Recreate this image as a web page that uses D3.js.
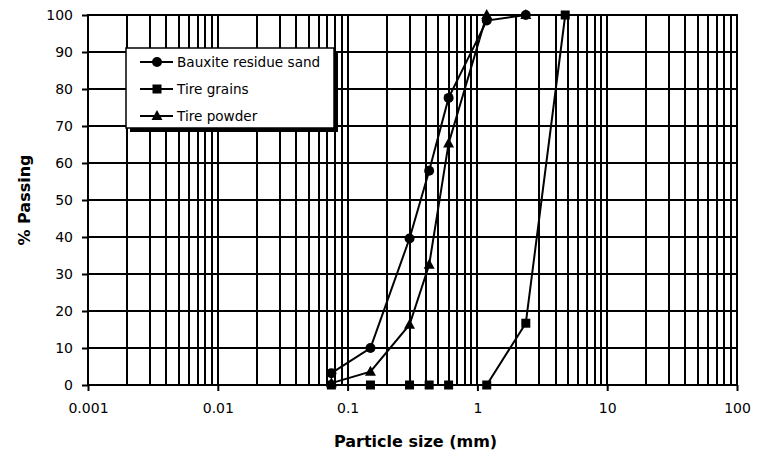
<!DOCTYPE html>
<html>
<head>
<meta charset="utf-8">
<script src="https://cdn.jsdelivr.net/npm/d3@7"></script>
<style>
  body { margin: 0; background: #fff; }
  svg { display: block; font-family: "DejaVu Sans", sans-serif; }
</style>
</head>
<body>
<svg width="763" height="456"></svg>
<script>
// DATA
const sieveSizes = [0.075, 0.15, 0.3, 0.425, 0.6, 1.18, 2.36, 4.75];
const bauxiteSand = [3.2, 10, 39.6, 57.9, 77.6, 98.5, 100, null];
const tireGrains = [0, 0, 0, 0, 0, 0, 16.7, 100];
const tirePowder = [0.5, 3.6, 16.3, 32.5, 65.3, 100, 100, null];
const seriesNames = ["Bauxite residue sand", "Tire grains", "Tire powder"];
const seriesShapes = ["circle", "square", "triangle"];
const xTickLabels = [0.001, 0.01, 0.1, 1, 10, 100];
const yTicks = [0, 10, 20, 30, 40, 50, 60, 70, 80, 90, 100];

const svg = d3.select("svg");
const FONT = "'DejaVu Sans', sans-serif";

// CONSTANTS
const margin = { top: 15, left: 88, right: 26, bottom: 71 };
const width = +svg.attr("width");
const height = +svg.attr("height");

// SCALES
const x = d3.scaleLog().domain([0.001, 100]).range([margin.left, width - margin.right]);
const y = d3.scaleLinear().domain([0, 100]).range([height - margin.bottom, margin.top]);

// gridlines
const grid = svg.append("g").attr("stroke", "#000").attr("stroke-width", 2);
grid.selectAll("line.v")
  .data(x.ticks().filter(d => d > 0.001 && d < 100))
  .enter().append("line")
  .attr("class", "v")
  .attr("x1", d => Math.round(x(d))).attr("x2", d => Math.round(x(d)))
  .attr("y1", y(100)).attr("y2", y(0));
grid.selectAll("line.h")
  .data(yTicks.filter(d => d > 0 && d < 100))
  .enter().append("line")
  .attr("class", "h")
  .attr("x1", x(0.001)).attr("x2", x(100))
  .attr("y1", d => Math.round(y(d))).attr("y2", d => Math.round(y(d)));

// frame
svg.append("rect")
  .attr("x", x(0.001)).attr("y", y(100))
  .attr("width", x(100) - x(0.001)).attr("height", y(0) - y(100))
  .attr("fill", "none").attr("stroke", "#000").attr("stroke-width", 2);

// AXES
const xAxis = svg.append("g")
  .attr("transform", `translate(0,${y(0)})`)
  .call(d3.axisBottom(x).tickValues(xTickLabels).tickSize(6).tickPadding(12)
    .tickFormat(d3.format("~g")));
const yAxis = svg.append("g")
  .attr("transform", `translate(${x(0.001)},0)`)
  .call(d3.axisLeft(y).tickValues(yTicks).tickSize(6).tickPadding(9));
[xAxis, yAxis].forEach(a => {
  a.attr("font-family", FONT).attr("font-size", 14);
  a.select(".domain").remove();
  a.selectAll("line").attr("stroke", "#000").attr("stroke-width", 2);
  a.selectAll("text").attr("fill", "#000");
});

// axis titles
svg.append("text")
  .attr("x", (x(0.001) + x(100)) / 2 + 3).attr("y", 447)
  .attr("text-anchor", "middle").attr("font-size", 16).attr("font-weight", "bold")
  .text("Particle size (mm)");
svg.append("text")
  .attr("transform", `translate(30,${(y(0) + y(100)) / 2}) rotate(-90)`)
  .attr("text-anchor", "middle").attr("font-size", 16).attr("font-weight", "bold")
  .text("% Passing");

// markers
function drawMarker(g, shape, cx, cy) {
  if (shape === "circle") {
    g.append("circle").attr("cx", cx).attr("cy", cy).attr("r", 5).attr("fill", "#000");
  } else if (shape === "square") {
    g.append("rect").attr("x", cx - 4.5).attr("y", cy - 4.5).attr("width", 9).attr("height", 9).attr("fill", "#000");
  } else {
    g.append("path").attr("d", `M${cx},${cy - 6}L${cx + 5.5},${cy + 4}L${cx - 5.5},${cy + 4}Z`).attr("fill", "#000");
  }
}

const allSeries = [bauxiteSand, tireGrains, tirePowder];
const line = d3.line()
  .defined(d => d[1] !== null)
  .x(d => x(d[0])).y(d => y(d[1]));

allSeries.forEach((vals, i) => {
  const pts = sieveSizes.map((s, j) => [s, vals[j]]).filter(d => d[1] !== null);
  const g = svg.append("g");
  g.append("path").datum(pts).attr("d", line)
    .attr("fill", "none").attr("stroke", "#000").attr("stroke-width", 2);
  pts.forEach(p => drawMarker(g, seriesShapes[i], x(p[0]), y(p[1])));
});

// LEGEND
const lg = svg.append("g").attr("transform", "translate(126,48)");
lg.append("rect").attr("x", 4).attr("y", 4).attr("width", 208).attr("height", 80).attr("fill", "#000");
lg.append("rect").attr("x", 0).attr("y", 0).attr("width", 208).attr("height", 80)
  .attr("fill", "#fff").attr("stroke", "#000").attr("stroke-width", 1.5);
seriesNames.forEach((name, i) => {
  const ry = 14 + i * 27;
  lg.append("line").attr("x1", 14).attr("x2", 47).attr("y1", ry).attr("y2", ry)
    .attr("stroke", "#000").attr("stroke-width", 2);
  drawMarker(lg, seriesShapes[i], 31, ry);
  lg.append("text").attr("x", 51).attr("y", ry + 5).attr("font-size", 13.6).text(name);
});
</script>
</body>
</html>
